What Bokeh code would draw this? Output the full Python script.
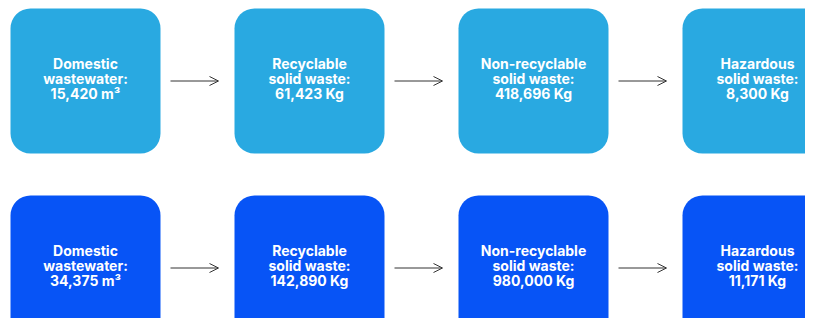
from bokeh.plotting import figure
from bokeh.models import ColumnDataSource, Range1d, Arrow, OpenHead
from bokeh.core.properties import value
from bokeh.embed import file_html
from bokeh.resources import INLINE

# Data
categories = ["Domestic\nwastewater:", "Recyclable\nsolid waste:", "Non-recyclable\nsolid waste:", "Hazardous\nsolid waste:"]
values_row1 = ["15,420 m³", "61,423 Kg", "418,696 Kg", "8,300 Kg"]
values_row2 = ["34,375 m³", "142,890 Kg", "980,000 Kg", "11,171 Kg"]
row_colors = ["#29A9E1", "#0754F6"]

W, H = 805, 318
p = figure(width=W, height=H, output_backend="svg", toolbar_location=None,
           x_range=Range1d(0, W), y_range=Range1d(H, 0),
           min_border=0, outline_line_color=None, background_fill_color="white")
p.axis.visible = False
p.grid.visible = False

col_x0, col_step, box_w = 85, 224, 150
row_y0, row_step, box_h = 80.5, 187, 145

for r, vals in enumerate([values_row1, values_row2]):
    cy = row_y0 + r * row_step
    xs = [col_x0 + i * col_step for i in range(len(categories))]
    src = ColumnDataSource(dict(
        left=[x - box_w / 2 for x in xs], right=[x + box_w / 2 for x in xs],
        top=[cy - box_h / 2] * len(xs), bottom=[cy + box_h / 2] * len(xs),
        x=xs, y=[cy - 2.5] * len(xs),
        label=[c + "\n" + v for c, v in zip(categories, vals)],
    ))
    p.quad(left="left", right="right", top="top", bottom="bottom", source=src,
           fill_color=row_colors[r], line_color=None, border_radius=20)
    p.text(x="x", y="y", text="label", source=src, text_color="white",
           text_font=value("Inter"), text_font_style="bold", text_font_size="14px",
           text_align="center", text_baseline="middle", text_line_height=0.9)
    asrc = ColumnDataSource(dict(
        x0=[x + 85 for x in xs[:-1]], x1=[x + 133 for x in xs[:-1]],
        y0=[cy] * (len(xs) - 1), y1=[cy] * (len(xs) - 1)))
    p.add_layout(Arrow(end=OpenHead(size=9, line_color="#333333", line_width=1),
                       x_start="x0", y_start="y0", x_end="x1", y_end="y1",
                       line_color="#333333", line_width=1, source=asrc))

open("out.html", "w").write(file_html(p, INLINE))
